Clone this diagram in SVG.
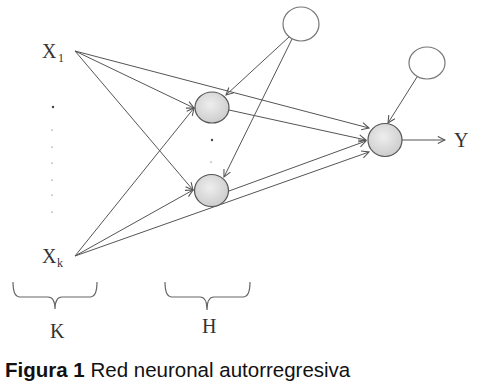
<svg xmlns="http://www.w3.org/2000/svg" width="497" height="389" viewBox="0 0 497 389">
<style>
.lbl{font-family:"Liberation Serif","Times New Roman",serif;font-size:20px;fill:#333}
.sub{font-family:"Liberation Serif","Times New Roman",serif;font-size:12px;fill:#333}
.edge{stroke:#555;stroke-width:1;fill:none;marker-end:url(#arr)}
.neuron{fill:url(#g);stroke:#555;stroke-width:1.2}
.bias{fill:#fff;stroke:#777;stroke-width:1.2}
.brace{stroke:#666;stroke-width:1.2;fill:none}
.cap{font-family:"Liberation Sans",Arial,sans-serif;font-size:20.5px;fill:#111}
</style>
<defs>
<radialGradient id="g" cx="45%" cy="40%" r="60%">
<stop offset="0" stop-color="#eeeeee"/>
<stop offset="1" stop-color="#cdcdcd"/>
</radialGradient>
<marker id="arr" viewBox="0 0 10 10" refX="9" refY="5" markerWidth="9" markerHeight="9" orient="auto" markerUnits="userSpaceOnUse">
<path d="M1,1 L9,5 L1,9" fill="none" stroke="#555" stroke-width="1.2"/>
</marker>
</defs>
<rect width="497" height="389" fill="#fff"/>
<g id="connectors">
<line class="edge" x1="75" y1="51" x2="194" y2="108"/>
<line class="edge" x1="75" y1="51" x2="193" y2="190"/>
<line class="edge" x1="75" y1="51" x2="369" y2="128"/>
<line class="edge" x1="75" y1="256" x2="194" y2="108"/>
<line class="edge" x1="75" y1="256" x2="193" y2="190"/>
<line class="edge" x1="75" y1="256" x2="369" y2="152"/>
<line class="edge" x1="289" y1="37" x2="226" y2="95"/>
<line class="edge" x1="292" y1="39" x2="224" y2="177"/>
<line class="edge" x1="229" y1="110" x2="366" y2="140"/>
<line class="edge" x1="229" y1="191" x2="366" y2="141"/>
<line class="edge" x1="417" y1="77" x2="388" y2="123"/>
<line class="edge" x1="402" y1="140" x2="445" y2="140"/>
</g>
<g id="x1"><text class="lbl" x="42" y="58" font-size="21">X</text><text class="sub" x="58" y="62">1</text></g>
<g id="xk"><text class="lbl" x="42" y="263" font-size="21">X</text><text class="sub" x="57" y="267">k</text></g>
<g id="input-dots" fill="#444">
<circle cx="53" cy="107" r="1.2"/>
<circle cx="52" cy="130" r="0.6"/>
<circle cx="52" cy="147" r="0.6"/>
<circle cx="52" cy="163" r="0.6"/>
<circle cx="52" cy="180" r="0.6"/>
<circle cx="52" cy="195" r="0.6"/>
<circle cx="52" cy="212" r="0.6"/>
</g>
<g id="h1"><ellipse class="neuron" cx="212" cy="107.5" rx="17" ry="15.5"/></g>
<g id="h2"><ellipse class="neuron" cx="211.5" cy="190.5" rx="17" ry="16"/></g>
<g id="hidden-dots" fill="#444">
<circle cx="212" cy="140" r="1.2"/>
<circle cx="211" cy="162" r="0.6"/>
</g>
<g id="bias1"><ellipse class="bias" cx="301" cy="24" rx="18" ry="17"/></g>
<g id="bias2"><ellipse class="bias" cx="427" cy="63" rx="18" ry="16"/></g>
<g id="out"><ellipse class="neuron" cx="385" cy="140" rx="17" ry="16.5"/></g>
<g id="y"><text class="lbl" x="454" y="147">Y</text></g>
<g id="braceK"><path class="brace" d="M13,282 Q13,297 20,297 L48,297 Q55,297 55,309 Q55,297 62,297 L90,297 Q97,297 97,282"/><text class="lbl" x="50" y="338">K</text></g>
<g id="braceH"><path class="brace" d="M165,282 Q165,297 172,297 L200,297 Q207,297 207,310 Q207,297 214,297 L243,297 Q250,297 250,282"/><text class="lbl" x="202" y="333">H</text></g>
<g id="caption"><text class="cap" x="5" y="377"><tspan font-weight="bold">Figura 1</tspan> Red neuronal autorregresiva</text></g>
</svg>
